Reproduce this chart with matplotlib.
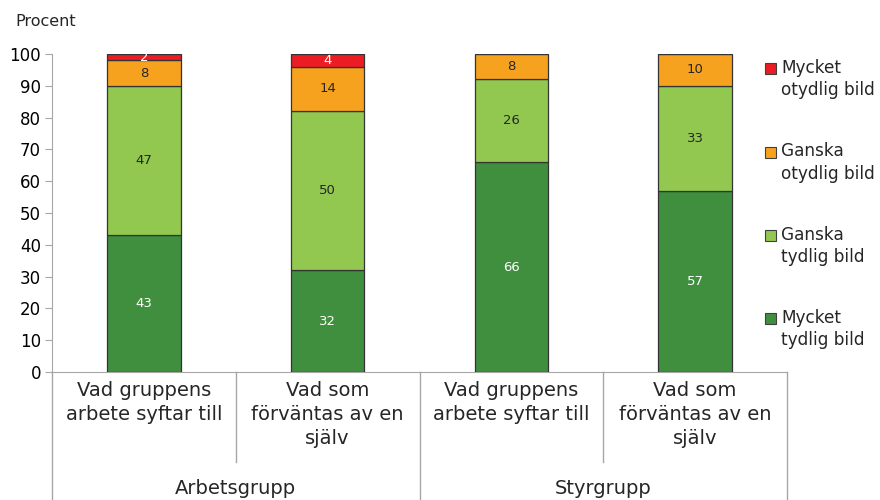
import matplotlib
matplotlib.use("Agg")
import matplotlib.pyplot as plt
from matplotlib.patches import Rectangle
import numpy as np

plt.rcParams['font.family'] = ['DejaVu Sans']

# data
categories = ["Vad gruppens\narbete syftar till", "Vad som\nförväntas av en\nsjälv",
              "Vad gruppens\narbete syftar till", "Vad som\nförväntas av en\nsjälv"]
groups = ["Arbetsgrupp", "Styrgrupp"]
series_names = ["Mycket\ntydlig bild", "Ganska\ntydlig bild", "Ganska\notydlig bild", "Mycket\notydlig bild"]
mycket_tydlig = [43, 32, 66, 57]
ganska_tydlig = [47, 50, 26, 33]
ganska_otydlig = [8, 14, 8, 10]
mycket_otydlig = [2, 4, 0, 0]

colors = ["#3f8f3f", "#92c850", "#f7a21e", "#ec1c24"]
label_colors = ["white", "#262626", "#262626", "white"]
grid_col = "#a6a6a6"

fig = plt.figure(figsize=(8.8, 5), dpi=100)
ax = fig.add_axes([52 / 880, 1 - 372 / 500, (787 - 52) / 880, (372 - 54) / 500])

x = np.arange(len(categories))
bottom = np.zeros(len(categories))
for vals, col, lcol in zip([mycket_tydlig, ganska_tydlig, ganska_otydlig, mycket_otydlig],
                           colors, label_colors):
    vals = np.array(vals, dtype=float)
    ax.bar(x, vals, 0.4, bottom=bottom, color=col, edgecolor="#333333", linewidth=0.9, zorder=3)
    for xi, b, v in zip(x, bottom, vals):
        if v > 0:
            ax.text(xi, b + v / 2, f"{int(v)}", ha="center", va="center",
                    fontsize=9.5, color=lcol, zorder=4)
    bottom += vals

ax.set_xlim(-0.5, len(categories) - 0.5)
ax.set_ylim(0, 100)
ax.set_yticks(range(0, 101, 10))
ax.tick_params(axis="y", labelsize=12, color=grid_col, length=5, direction="out", pad=3)
ax.set_xticks([])
for s in ["top", "right"]:
    ax.spines[s].set_visible(False)
ax.spines["left"].set_color(grid_col)
ax.spines["bottom"].set_color(grid_col)

fig.text(15 / 880, 1 - 21 / 500, "Procent", fontsize=11.5, va="center", ha="left", color="#262626")

# category labels
trans = ax.get_xaxis_transform()
for xi, cat in zip(x, categories):
    ax.text(xi, -0.028, cat, transform=trans, ha="center", va="top", fontsize=14,
            linespacing=1.35, color="#262626")

# group labels and separators
ax.plot([-0.5, -0.5], [0, -0.40], transform=trans, color=grid_col, lw=1, clip_on=False)
for gi, g in enumerate(groups):
    ax.text(gi * 2 + 0.5, -0.365, g, transform=trans, ha="center", va="center",
            fontsize=14, color="#262626")
    ax.plot([gi * 2 + 0.5] * 2, [0, -0.283], transform=trans, color=grid_col, lw=1, clip_on=False)
    ax.plot([gi * 2 + 1.5] * 2, [0, -0.40], transform=trans, color=grid_col, lw=1, clip_on=False)

# legend (top to bottom, reversed series order)
leg_y = [68.5, 152, 235.5, 318.5]
for yc, name, col in zip(leg_y, series_names[::-1], colors[::-1]):
    fig.patches.append(Rectangle((765 / 880, 1 - (yc + 5.5) / 500), 11 / 880, 11 / 500,
                                 transform=fig.transFigure, facecolor=col,
                                 edgecolor="#404040", linewidth=0.8))
    fig.text(781 / 880, 1 - (yc - 9.5) / 500, name, fontsize=12.2, va="top", ha="left",
             linespacing=1.3, color="#262626")

fig.savefig("out.png", dpi=100)
